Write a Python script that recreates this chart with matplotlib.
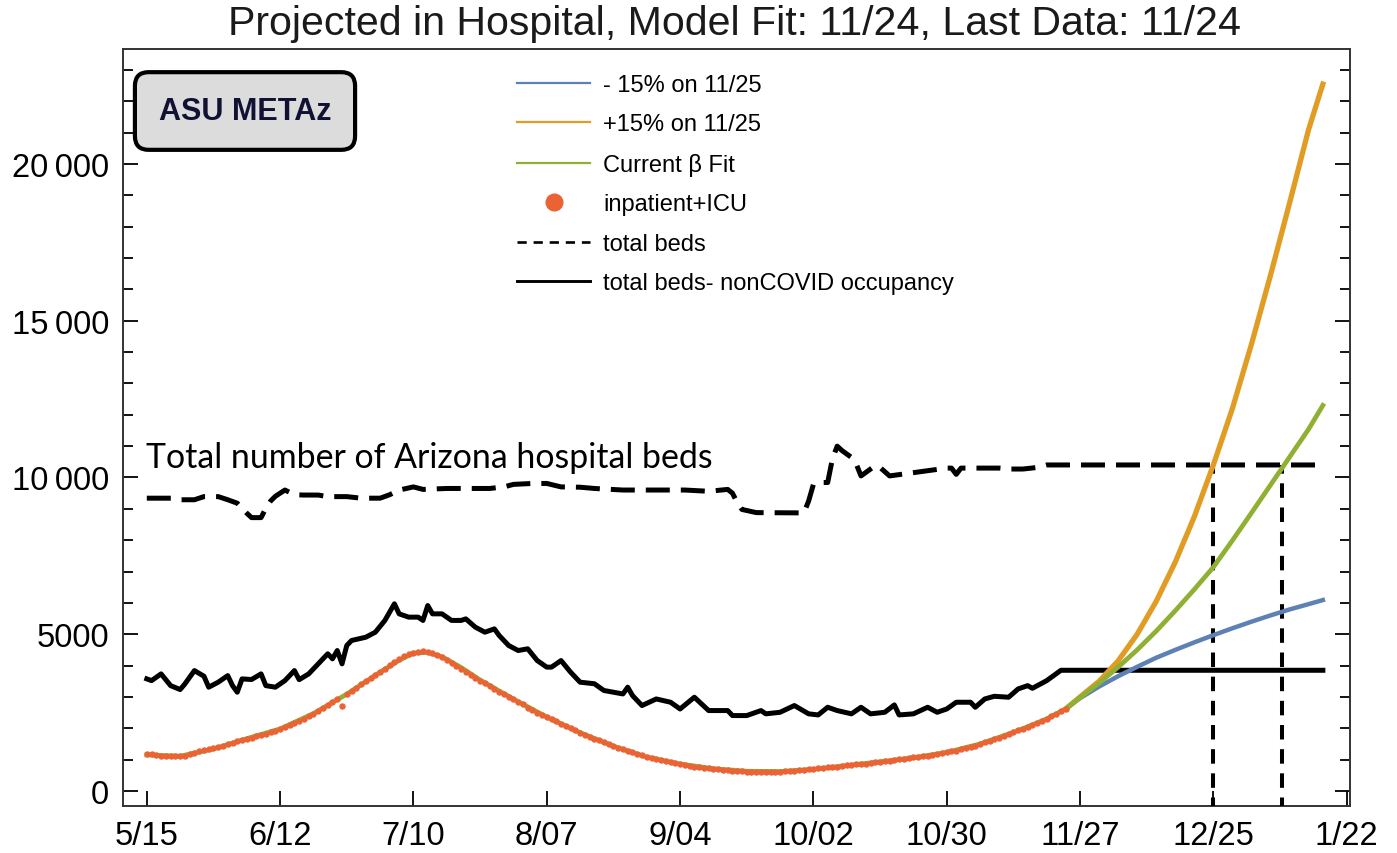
import numpy as np
import matplotlib
matplotlib.use('Agg')
import matplotlib.pyplot as plt
import matplotlib.dates as mdates
from matplotlib.lines import Line2D
from matplotlib.ticker import FixedLocator, MultipleLocator, FuncFormatter

# ---------------- data ----------------
start_date = '2020-05-15'

tick_dates = ['2020-05-15', '2020-06-12', '2020-07-10', '2020-08-07', '2020-09-04',
              '2020-10-02', '2020-10-30', '2020-11-27', '2020-12-25', '2021-01-22']
tick_labels = ['5/15', '6/12', '7/10', '8/07', '9/04', '10/02', '10/30', '11/27', '12/25', '1/22']

# inpatient+ICU, daily from 5/15 to 11/24
inpatient = [
    1180, 1170, 1150, 1130, 1120, 1110, 1110, 1110, 1130, 1170, 1220,
    1280, 1300, 1330, 1360, 1400, 1450, 1500, 1540, 1590, 1630,
    1660, 1700, 1740, 1780, 1820, 1870, 1920, 1970, 2030, 2100,
    2170, 2240, 2310, 2390, 2470, 2560, 2650, 2740, 2830, 2920,
    2720, 3100, 3200, 3300, 3400, 3500, 3590, 3690, 3790, 3900,
    4010, 4120, 4220, 4300, 4360, 4400, 4440, 4480, 4430, 4400,
    4340, 4280, 4180, 4080, 3980, 3880, 3780, 3700, 3610, 3520,
    3430, 3340, 3250, 3170, 3090, 3010, 2930, 2850, 2760, 2660,
    2570, 2500, 2430, 2360, 2290, 2220, 2150, 2080, 2000, 1930,
    1860, 1790, 1720, 1660, 1610, 1550, 1490, 1420, 1380, 1330,
    1290, 1240, 1190, 1140, 1090, 1060, 1030, 990, 960, 930,
    900, 870, 840, 810, 780, 760, 740, 720, 700, 690,
    680, 670, 650, 640, 630, 620, 610, 610, 600, 610,
    600, 610, 620, 630, 640, 650, 660, 680, 690, 700,
    720, 730, 750, 760, 780, 800, 820, 830, 850, 860,
    870, 890, 910, 930, 950, 970, 990, 1010, 1030, 1050,
    1070, 1090, 1110, 1130, 1150, 1170, 1200, 1230, 1260, 1290,
    1330, 1370, 1410, 1450, 1500, 1550, 1600, 1650, 1700, 1760,
    1820, 1870, 1930, 1990, 2050, 2110, 2170, 2230, 2300, 2380,
    2460, 2540, 2620]

# current beta fit (days since 5/15)
fit_days = [0, 7, 14, 21, 28, 35, 42, 49, 53, 56, 59, 62, 66, 70, 77, 84, 91, 98, 105, 112,
            119, 126, 133, 140, 147, 154, 161, 168, 175, 182, 186, 189, 193, 196, 200, 204,
            208, 212, 216, 220, 224, 228, 232, 236, 240, 244, 247]
fit_vals = [1150, 1110, 1340, 1670, 1980, 2470, 3090, 3790, 4170, 4400, 4420, 4280, 3940, 3540,
            2930, 2360, 1860, 1430, 1080, 860, 710, 630, 620, 690, 810, 930, 1060, 1230, 1500,
            1870, 2110, 2300, 2620, 2980, 3440, 3950, 4500, 5100, 5750, 6430, 7140, 7990, 8870,
            9760, 10650, 11540, 12300]

# scenario projections from 11/24
proj_days = [193, 196, 200, 204, 208, 212, 216, 220, 224, 228, 232, 236, 240, 244, 247]
minus15 = [2620, 2960, 3330, 3660, 3960, 4250, 4500, 4740, 4970, 5190, 5400, 5600, 5790, 5960, 6090]
plus15 = [2620, 3000, 3500, 4150, 5000, 6050, 7300, 8750, 10400, 12200, 14250, 16450, 18750,
          21100, 22550]

# total beds
tb_days = [0, 6, 7, 10, 12, 15, 17, 19, 20, 21, 22, 24, 25, 26, 27, 29, 31, 33, 36, 38,
           42, 45, 49, 51, 53, 56, 58, 63, 66, 72, 75, 77, 81, 84, 87, 91, 94, 100, 102, 113,
           118, 122, 123, 124, 125, 128, 138, 139, 140, 141, 143, 144, 145, 146, 148, 149, 150,
           153, 154, 156, 168, 169, 170, 171, 179, 181, 184, 187, 189, 247]
tb_vals = [9340, 9340, 9290, 9290, 9390, 9390, 9290, 9180, 9020, 8860, 8720, 8720, 9020, 9250,
           9400, 9600, 9450, 9440, 9440, 9390, 9390, 9340, 9340, 9450, 9600, 9700, 9620, 9650,
           9650, 9650, 9700, 9780, 9810, 9810, 9700, 9690, 9650, 9600, 9600, 9600, 9560, 9620,
           9500, 9200, 8980, 8880, 8870, 9250, 9780, 9840, 9840, 10600, 11000, 10860, 10640,
           10430, 10050, 10380, 10320, 10050, 10300, 10300, 10100, 10300, 10300, 10270, 10270,
           10320, 10400, 10400]

# total beds - nonCOVID occupancy
nc_days = [0, 1, 3, 5, 7, 8, 10, 12, 13, 15, 17, 18, 19, 20, 22, 24, 25, 27, 29, 31, 32, 34,
           36, 38, 39, 40, 41, 42, 43, 46, 48, 50, 52, 53, 55, 57, 58, 59, 60, 62, 64, 66, 67,
           69, 71, 73, 74, 76, 78, 80, 82, 84, 85, 87, 89, 91, 94, 96, 100, 101, 102, 104, 107,
           110, 112, 115, 118, 122, 123, 126, 129, 130, 133, 136, 139, 141, 143, 145, 148, 150,
           152, 155, 157, 158, 161, 164, 166, 168, 170, 173, 174, 176, 178, 181, 183, 185, 186,
           189, 190, 192, 247]
nc_vals = [3575, 3520, 3735, 3360, 3235, 3415, 3840, 3660, 3310, 3470, 3680, 3360, 3150, 3575,
           3555, 3735, 3360, 3310, 3520, 3840, 3550, 3735, 4055, 4375, 4215, 4480, 4055, 4640,
           4800, 4905, 5065, 5440, 5970, 5650, 5545, 5545, 5440, 5915, 5650, 5650, 5440, 5440,
           5490, 5225, 5065, 5170, 4960, 4640, 4480, 4535, 4160, 3950, 3950, 4160, 3790, 3470,
           3420, 3205, 3095, 3310, 3045, 2725, 2935, 2830, 2615, 2990, 2565, 2565, 2405, 2405,
           2565, 2460, 2510, 2725, 2460, 2425, 2670, 2565, 2460, 2670, 2460, 2510, 2745, 2425,
           2460, 2670, 2510, 2615, 2830, 2830, 2670, 2935, 3020, 2990, 3255, 3360, 3275, 3520,
           3630, 3850, 3850]

cross_dates = ['2020-12-25T00', '2021-01-08T12']
cross_level = 10400

series_labels = ['- 15% on 11/25', '+15% on 11/25', 'Current \u03b2 Fit', 'inpatient+ICU',
                 'total beds', 'total beds- nonCOVID occupancy']

# ---------------- styling ----------------
C_BLUE = '#5E81B5'
C_ORANGE = '#E19C24'
C_GREEN = '#8FB032'
C_DOT = '#EB6235'
FONT = ['Liberation Sans', 'DejaVu Sans']

plt.rcParams['font.family'] = FONT

W, H = 1397, 854
fig = plt.figure(figsize=(W / 100, H / 100), dpi=100)
ax = fig.add_axes([123 / W, 1 - 807 / H, (1350 - 123) / W, (807 - 50) / H])

base = mdates.date2num(np.datetime64(start_date))


def dnum(days):
    return base + np.asarray(days, dtype=float)


inp_x = dnum(np.arange(len(inpatient)))

ax.plot(dnum(tb_days), tb_vals, color='black', lw=3.6, dashes=(4.8, 2.2), zorder=3)
ax.plot(dnum(nc_days), nc_vals, color='black', lw=3.6, zorder=3)

ax.plot(dnum(proj_days), minus15, color=C_BLUE, lw=3.2, zorder=4)
ax.plot(dnum(proj_days), plus15, color=C_ORANGE, lw=3.8, zorder=4)
ax.plot(dnum(fit_days), fit_vals, color=C_GREEN, lw=3.4, zorder=5)
ax.plot(inp_x, inpatient, 'o', ms=4.6, color=C_DOT, mec='none', zorder=6)

cx = mdates.date2num(np.array(cross_dates, dtype='datetime64[h]'))
ylo = -480
for x in cx:
    ax.plot([x, x], [ylo - 200, cross_level], color='black', lw=2.9, dashes=(3.6, 2.4),
            zorder=3, clip_on=True)

ax.set_xlim(base - 5.0, base + 252.7)
ax.set_ylim(ylo, 23670)

tick_x = mdates.date2num(np.array(tick_dates, dtype='datetime64[D]'))
ax.xaxis.set_major_locator(FixedLocator(tick_x))
ax.set_xticklabels(tick_labels)


def yfmt(v, pos):
    v = int(round(v))
    if v >= 10000:
        return f'{v // 1000}\u2009{v % 1000:03d}'
    return str(v)


ax.yaxis.set_major_locator(FixedLocator([0, 5000, 10000, 15000, 20000]))
ax.yaxis.set_major_formatter(FuncFormatter(yfmt))
ax.yaxis.set_minor_locator(MultipleLocator(1000))

ax.tick_params(axis='x', which='major', direction='in', length=11, width=1.3,
               labelsize=23.5, pad=10, top=False, colors='black')
ax.tick_params(axis='y', which='major', direction='in', length=11, width=1.3,
               labelsize=23.5, pad=10, right=True, colors='black')
ax.tick_params(axis='y', which='minor', direction='in', length=7, width=1.3, right=True)
for s in ax.spines.values():
    s.set_linewidth(1.4)
    s.set_color('#333333')

# title
fig.text(734 / W, 1 - 24 / H, 'Projected in Hospital, Model Fit: 11/24, Last Data: 11/24',
         ha='center', va='center', fontsize=29.6, color='#1a1a1a')

# annotation
fig.text(146 / W, 1 - 468 / H, 'Total number of Arizona hospital beds',
         ha='left', va='baseline', fontsize=24.4, family=['Lato', 'DejaVu Sans'], color='black')

# ASU METAz badge
fig.text(245 / W, 1 - 112 / H, 'ASU METAz', ha='center', va='center', fontsize=22,
         fontweight='bold', color='#111133',
         bbox=dict(boxstyle='round,pad=0.78,rounding_size=0.45', facecolor='#DCDCDC',
                   edgecolor='black', linewidth=3.0))

# legend
handles = [
    Line2D([], [], color=C_BLUE, lw=1.6),
    Line2D([], [], color=C_ORANGE, lw=1.6),
    Line2D([], [], color=C_GREEN, lw=1.6),
    Line2D([], [], ls='none', marker='o', ms=13, color=C_DOT, mec='none'),
    Line2D([], [], color='black', lw=1.9, dashes=(3.5, 2.6)),
    Line2D([], [], color='black', lw=2.1),
]
leg = ax.legend(handles, series_labels, loc='upper left',
                bbox_to_anchor=(517 / W, 1 - 75 / H), bbox_transform=fig.transFigure,
                frameon=False, fontsize=17, handlelength=3.1, handletextpad=0.55,
                labelspacing=0.74, borderpad=0, borderaxespad=0)

fig.savefig('out.png', dpi=100)
